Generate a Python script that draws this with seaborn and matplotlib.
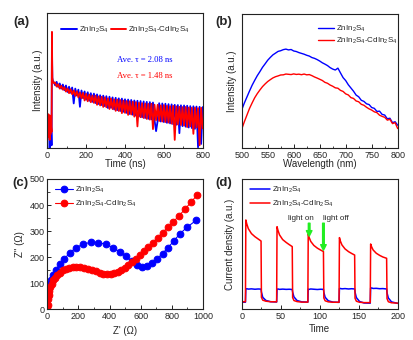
import numpy as np
import matplotlib
matplotlib.use("Agg")
import matplotlib.pyplot as plt
from matplotlib.ticker import MultipleLocator
import seaborn as sns

sns.set_style("ticks")
plt.rcParams["font.family"] = ["Liberation Sans", "DejaVu Sans"]
plt.rcParams["mathtext.fontset"] = "custom"
plt.rcParams["mathtext.rm"] = "Liberation Sans"
plt.rcParams["mathtext.it"] = "Liberation Sans:italic"

BLUE = "#0000ff"
RED = "#ff0000"
GREEN = "#22ee22"
LBL_PURE = "ZnIn$_2$S$_4$"
LBL_HET = "ZnIn$_2$S$_4$-CdIn$_2$S$_4$"

# ---- (a) time-resolved PL decay (normalised intensity, a.u.) ----
trpl_t = np.concatenate([[0, 2, 4, 6, 8, 10, 12, 14, 16, 18, 20, 22,
                          23, 24, 25, 26, 28, 30, 32, 35],
                         np.arange(40, 801, 8)])
trpl_pure = [12, 18, 10, 21, 8, 16, 0, 14, 9, 22, 13, 2,
             40, 80, 62, 52, 50, 49.5, 49, 48.5,
             46.5, 49.0, 45.2, 47.8, 44.0, 47.0, 42.8, 46.3, 41.5, 45.4,
             40.9, 44.8, 33.0, 44.0, 38.8, 43.2, 30.5, 42.6, 36.9, 41.9,
             35.8, 41.3, 35.0, 40.6, 34.2, 40.3, 33.3, 39.7, 32.6, 39.1,
             31.8, 38.8, 31.0, 38.4, 29.6, 38.0, 29.8, 37.5, 28.6, 37.2,
             28.0, 36.8, 27.4, 36.6, 26.8, 36.1, 26.0, 35.9, 25.2, 35.6,
             24.6, 35.2, 24.0, 35.0, 23.4, 34.8, 22.8, 34.5, 22.2, 34.2,
             21.6, 34.0, 21.2, 33.7, 20.6, 12.5, 20.1, 33.2, 19.6, 33.0,
             19.2, 32.8, 18.6, 32.5, 18.2, 32.3, 17.6, 32.0, 17.2, 31.8,
             11.0, 31.6, 16.2, 31.5, 15.8, 31.3, 15.2, 31.0, 14.8, 30.9,
             14.2, 30.7, 0.5, 30.5, 3.0, 30.3]
trpl_het = [14, 22, 8, 25, 12, 19, 6, 24, 10, 20, 15, 12,
            50, 86, 65, 52, 49.5, 49, 48.5, 48,
            48.5, 45.5, 47.2, 44.0, 46.1, 43.2, 45.0, 41.8, 44.1, 40.6,
            43.5, 39.8, 42.6, 38.6, 42.0, 37.5, 41.2, 36.8, 40.8, 35.2,
            40.1, 34.6, 39.5, 33.9, 38.9, 33.4, 38.8, 32.0, 38.2, 31.5,
            37.9, 30.4, 37.5, 30.2, 36.8, 28.9, 36.7, 28.8, 36.0, 27.5,
            35.9, 27.4, 35.5, 25.8, 35.1, 26.0, 34.8, 24.5, 34.6, 24.8,
            34.3, 23.2, 34.0, 16.0, 33.5, 22.8, 33.2, 22.2, 33.0, 21.5,
            32.7, 21.0, 32.8, 14.0, 32.1, 20.6, 32.0, 20.0, 31.6, 19.6,
            31.8, 19.2, 31.3, 18.8, 31.0, 18.0, 31.2, 6.0, 30.8, 17.4,
            30.5, 17.0, 30.3, 16.6, 30.4, 15.5, 30.0, 16.0, 29.8, 10.5,
            29.9, 15.2, 29.5, 2.0, 29.8, 14.5]
tau_pure, tau_het = 2.08, 1.48

# ---- (b) steady-state PL spectra ----
pl_wl = np.arange(500, 801, 5)
pl_pure = [28.4, 33.5, 38.0, 42.5, 46.8, 50.5, 54.0, 57.0, 60.2, 62.8,
           65.5, 67.6, 69.5, 70.8, 72.1, 72.6, 73.4, 73.8, 73.2, 73.5,
           72.4, 72.0, 71.2, 70.6, 70.0, 69.2, 68.6, 67.5, 66.9, 66.0,
           64.9, 63.6, 62.6, 61.5, 60.0, 58.9, 58.2, 59.6, 56.0, 52.5,
           50.3, 47.2, 44.8, 42.4, 39.5, 38.2, 35.6, 34.8, 33.0, 32.4,
           30.2, 29.6, 27.3, 27.5, 25.1, 24.6, 21.8, 22.2, 18.9, 19.6, 17.0]
pl_het = [14.0, 19.5, 24.5, 29.5, 33.6, 37.5, 40.6, 43.3, 45.8, 47.8,
          49.6, 51.0, 52.3, 53.2, 53.8, 54.5, 54.6, 55.2, 55.0, 54.8,
          55.3, 54.9, 55.1, 54.7, 55.2, 54.6, 54.8, 54.0, 53.0, 52.2,
          51.3, 50.4, 49.0, 48.3, 47.0, 46.1, 44.9, 44.6, 43.0, 42.2,
          40.4, 39.6, 37.6, 37.0, 35.1, 34.5, 32.6, 31.9, 30.4, 29.2,
          28.3, 27.0, 26.4, 24.5, 23.6, 22.9, 20.8, 21.4, 18.2, 18.9, 14.5]

# ---- (c) Nyquist plots ----
zre_pure = [2, 7, 14, 24, 38, 56, 80, 110, 145, 185, 230, 278, 326, 374,
            420, 464, 505, 543, 578, 610, 642, 674, 706, 740, 776, 812,
            852, 900, 957]
zim_pure = [50, 72, 92, 112, 132, 152, 172, 194, 217, 237, 250, 257, 256,
            250, 237, 221, 203, 184, 170, 164, 168, 179, 194, 214, 237,
            262, 290, 316, 342]
zre_het = [0, 2, 5, 9, 14, 20, 28, 38, 50, 64, 80, 98, 118, 140, 163, 187,
           211, 236, 261, 286, 311, 336, 360, 384, 407, 430, 452, 474, 496,
           519, 543, 568, 594, 621, 649, 678, 708, 740, 773, 808, 845, 885,
           925, 964]
zim_het = [0, 18, 38, 56, 72, 86, 99, 111, 122, 132, 141, 149, 155, 160,
           163, 164, 163, 160, 156, 151, 146, 141, 137, 135, 136, 139, 144,
           151, 160, 170, 181, 193, 207, 222, 238, 256, 275, 294, 314, 335,
           358, 385, 412, 440]

# ---- (d) transient photocurrent (a.u.) ----
pc_t = [0, 4.8, 5.3, 6.5, 8.5, 12.5, 17, 21, 24.8, 25.3, 27, 31, 37,
        44.8, 45.3, 46.5, 48.5, 52.5, 57, 61, 64.8, 65.3, 67, 71, 77,
        84.8, 85.3, 86.5, 88.5, 92.5, 97, 101, 104.8, 105.3, 107, 111, 117,
        124.8, 125.3, 126.5, 128.5, 132.5, 137, 141, 144.8, 145.3, 147, 151, 157,
        164.8, 165.3, 166.5, 168.5, 172.5, 177, 181, 185.8, 186.3, 188, 192, 200]
pc_het = [5.6, 5.6, 68.5, 65.5, 61.8, 58.0, 55.6, 53.9, 52.3, 9.0, 6.8, 6.0, 5.6,
          5.5, 63.3, 60.5, 57.0, 53.4, 51.2, 49.5, 48.0, 8.8, 6.5, 5.7, 5.3,
          5.3, 57.6, 55.0, 52.0, 48.9, 46.8, 45.4, 44.2, 8.5, 6.3, 5.5, 5.2,
          5.2, 54.9, 52.3, 49.3, 46.2, 44.1, 42.7, 41.5, 8.3, 6.0, 5.2, 4.9,
          4.9, 50.0, 47.9, 45.4, 42.9, 41.2, 40.0, 39.0, 8.0, 5.6, 4.8, 4.5]
pc_pure = [5.2, 5.2, 15.4, 15.6, 15.3, 15.5, 15.2, 15.4, 15.3, 13.0, 9.0, 6.6, 5.6,
           5.4, 15.2, 15.4, 15.1, 15.3, 15.1, 15.2, 15.0, 13.0, 9.3, 6.5, 5.5,
           5.3, 15.3, 15.1, 15.4, 15.2, 15.0, 15.2, 15.1, 12.8, 9.0, 6.3, 5.3,
           5.1, 15.6, 15.8, 15.5, 15.7, 15.4, 15.6, 15.4, 13.0, 8.8, 5.8, 4.6,
           4.5, 16.0, 16.2, 15.8, 15.9, 15.6, 15.7, 15.4, 12.5, 8.5, 5.5, 4.3]
light_on_t, light_off_t = 86.5, 104.8

TICK_FS = 6.5
LABEL_FS = 7
LEG_FS = 5.8

fig = plt.figure(figsize=(4.14, 3.40), dpi=100)
W, H = 414, 340


def box(x0, y0, x1, y1):
    return [x0 / W, 1 - y1 / H, (x1 - x0) / W, (y1 - y0) / H]


ax_a = fig.add_axes(box(47.3, 13, 202.7, 148))
ax_b = fig.add_axes(box(241.7, 14, 397.7, 148))
ax_c = fig.add_axes(box(47.3, 179, 203, 309.3))
ax_d = fig.add_axes(box(241.7, 179, 397.7, 309))


def style(ax, yticks=False):
    for s in ax.spines.values():
        s.set_linewidth(0.8)
        s.set_color("#222222")
    ax.tick_params(direction="in", which="both", labelsize=TICK_FS,
                   pad=2, top=False, right=False, color="#222222")
    ax.tick_params(which="major", length=3, width=0.7)
    ax.tick_params(which="minor", length=1.8, width=0.6)
    if not yticks:
        ax.set_yticks([])


# (a)
sns.lineplot(x=trpl_t, y=trpl_pure, ax=ax_a, color=BLUE, lw=1.3,
             sort=False, estimator=None, label=LBL_PURE)
sns.lineplot(x=trpl_t, y=trpl_het, ax=ax_a, color=RED, lw=1.3,
             sort=False, estimator=None, label=LBL_HET)
ax_a.set_xlim(0, 800)
ax_a.set_ylim(0, 100)
ax_a.xaxis.set_major_locator(MultipleLocator(200))
ax_a.xaxis.set_minor_locator(MultipleLocator(100))
style(ax_a)
ax_a.set_xlabel("Time (ns)", fontsize=LABEL_FS)
ax_a.set_ylabel("Intensity (a.u.)", fontsize=LABEL_FS)
ax_a.text(0.45, 0.655, f"Ave. \u03c4 = {tau_pure:.2f} ns", color=BLUE,
          family="Liberation Serif", fontsize=6.2, transform=ax_a.transAxes,
          va="center")
ax_a.text(0.45, 0.535, f"Ave. \u03c4 = {tau_het:.2f} ns", color=RED,
          family="Liberation Serif", fontsize=6.2, transform=ax_a.transAxes,
          va="center")
leg = ax_a.legend(loc="center left", bbox_to_anchor=(0.07, 0.875), ncol=2,
                  frameon=False, fontsize=LEG_FS, handlelength=1.9,
                  handletextpad=0.25, columnspacing=0.3, borderaxespad=0)
for h in leg.get_lines():
    h.set_linewidth(1.4)

# (b)
sns.lineplot(x=pl_wl, y=pl_pure, ax=ax_b, color=BLUE, lw=1.0,
             sort=False, estimator=None, label=LBL_PURE)
sns.lineplot(x=pl_wl, y=pl_het, ax=ax_b, color=RED, lw=1.0,
             sort=False, estimator=None, label=LBL_HET)
ax_b.set_xlim(500, 800)
ax_b.set_ylim(0, 100)
ax_b.xaxis.set_major_locator(MultipleLocator(50))
ax_b.xaxis.set_minor_locator(MultipleLocator(25))
style(ax_b)
ax_b.set_xlabel("Wavelength (nm)", fontsize=LABEL_FS)
ax_b.set_ylabel("Intensity (a.u.)", fontsize=LABEL_FS)
ax_b.legend(loc="upper left", bbox_to_anchor=(0.47, 0.95), frameon=False,
            fontsize=LEG_FS, handlelength=1.9, handletextpad=0.25,
            labelspacing=0.2, borderaxespad=0)

# (c)
sns.lineplot(x=zre_pure, y=zim_pure, ax=ax_c, color=BLUE, lw=0.8,
             marker="o", markersize=4.8, markeredgecolor=BLUE,
             sort=False, estimator=None, label=LBL_PURE)
sns.lineplot(x=zre_het, y=zim_het, ax=ax_c, color=RED, lw=0.8,
             marker="o", markersize=4.8, markeredgecolor=RED,
             sort=False, estimator=None, label=LBL_HET)
ax_c.set_xlim(0, 1000)
ax_c.set_ylim(0, 500)
ax_c.xaxis.set_major_locator(MultipleLocator(200))
ax_c.xaxis.set_minor_locator(MultipleLocator(100))
ax_c.yaxis.set_major_locator(MultipleLocator(100))
ax_c.yaxis.set_minor_locator(MultipleLocator(50))
style(ax_c, yticks=True)
ax_c.set_xlabel("Z' (\u03a9)", fontsize=LABEL_FS)
ax_c.set_ylabel("Z'' (\u03a9)", fontsize=LABEL_FS)
ax_c.legend(loc="upper left", bbox_to_anchor=(0.03, 0.98), frameon=False,
            fontsize=LEG_FS, handlelength=2.2, handletextpad=0.3,
            labelspacing=0.45, borderaxespad=0)

# (d)
sns.lineplot(x=pc_t, y=pc_pure, ax=ax_d, color=BLUE, lw=1.1,
             sort=False, estimator=None, label=LBL_PURE)
sns.lineplot(x=pc_t, y=pc_het, ax=ax_d, color=RED, lw=1.1,
             sort=False, estimator=None, label=LBL_HET)
ax_d.set_xlim(0, 200)
ax_d.set_ylim(0, 100)
ax_d.xaxis.set_major_locator(MultipleLocator(50))
ax_d.xaxis.set_minor_locator(MultipleLocator(25))
style(ax_d)
ax_d.set_xlabel("Time", fontsize=LABEL_FS)
ax_d.set_ylabel("Current density (a.u.)", fontsize=LABEL_FS)
ax_d.legend(loc="upper left", bbox_to_anchor=(0.035, 0.98), frameon=False,
            fontsize=LEG_FS, handlelength=2.4, handletextpad=0.3,
            labelspacing=0.45, borderaxespad=0)

for t, txt, dx in [(light_on_t, "light on", -11), (light_off_t, "light off", 16)]:
    tip = np.interp(t, pc_t, pc_het) + 1.0
    ax_d.annotate("", xy=(t, tip), xytext=(t, 66),
                  arrowprops=dict(facecolor=GREEN, edgecolor=GREEN,
                                  width=1.2, headwidth=4, headlength=4))
    ax_d.text(t + dx, 69.5, txt, fontsize=LEG_FS, ha="center", va="center")

# axis label placement
for ax, lx, ly in [(ax_a, -0.06, -0.118), (ax_b, -0.064, -0.118),
                   (ax_c, -0.175, -0.166), (ax_d, -0.075, -0.154)]:
    ax.yaxis.set_label_coords(lx, 0.5)
    ax.xaxis.set_label_coords(0.5, ly)
    ax.xaxis.label.set_va("center")
    ax.yaxis.label.set_va("center")

for lab, x, y in [("(a)", 13, 22), ("(b)", 215, 22), ("(c)", 12, 183),
                  ("(d)", 215, 183)]:
    fig.text(x / W, 1 - y / H, lab, fontsize=9.5, fontweight="bold",
             ha="left", va="center")

fig.savefig("out.png", dpi=100)
